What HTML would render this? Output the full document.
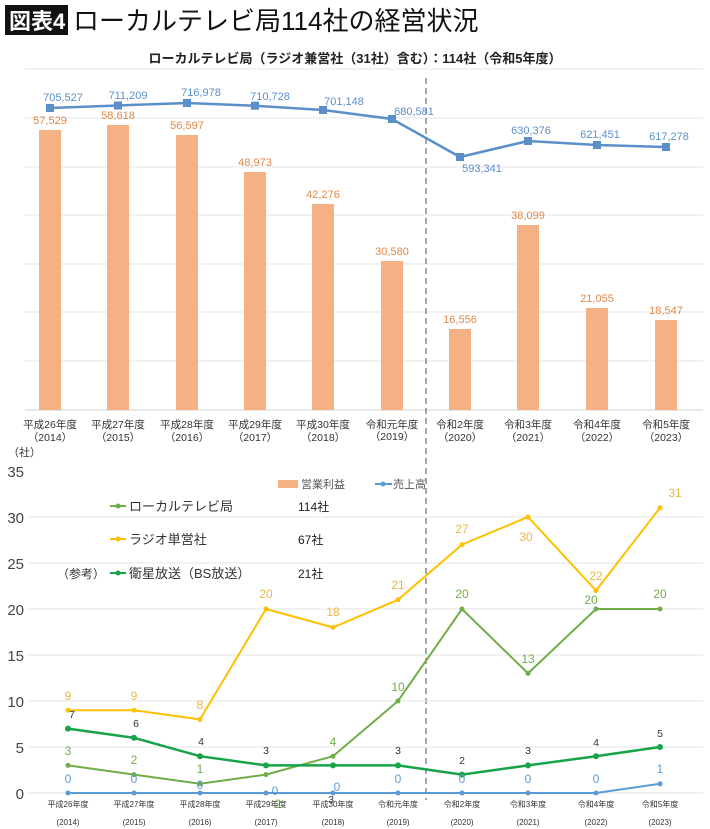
<!DOCTYPE html>
<html><head><meta charset="utf-8"><style>
html,body{margin:0;padding:0;background:#fff;}
svg{display:block;font-family:"Liberation Sans","Noto Sans CJK JP",sans-serif;}
</style></head><body>
<svg width="710" height="829" viewBox="0 0 710 829" xmlns="http://www.w3.org/2000/svg">
<rect x="5" y="5" width="63" height="30" fill="#111"/>
<text x="9" y="29" font-size="22" fill="#fff" font-weight="bold">図表4</text>
<text x="73" y="30" font-size="26" fill="#111">ローカルテレビ局114社の経営状況</text>
<text x="355" y="63" font-size="13" font-weight="bold" text-anchor="middle" fill="#222">ローカルテレビ局（ラジオ兼営社（31社）含む）：114社（令和5年度）</text>
<g stroke="#e4e4e4" stroke-width="1">
<line x1="25" y1="69" x2="703" y2="69"/><line x1="25" y1="118" x2="703" y2="118"/><line x1="25" y1="167" x2="703" y2="167"/><line x1="25" y1="215" x2="703" y2="215"/><line x1="25" y1="264" x2="703" y2="264"/><line x1="25" y1="312" x2="703" y2="312"/><line x1="25" y1="361" x2="703" y2="361"/><line x1="25" y1="410" x2="703" y2="410" stroke="#d0d0d0"/>
</g>
<g fill="#f4b183">
<rect x="39" y="130" width="22" height="280"/><rect x="107" y="125" width="22" height="285"/><rect x="176" y="135" width="22" height="275"/><rect x="244" y="172" width="22" height="238"/><rect x="312" y="204" width="22" height="206"/><rect x="381" y="261" width="22" height="149"/><rect x="449" y="329" width="22" height="81"/><rect x="517" y="225" width="22" height="185"/><rect x="586" y="308" width="22" height="102"/><rect x="655" y="320" width="22" height="90"/>
</g>
<g fill="#e0884a" font-size="11" text-anchor="middle">
<text x="50" y="124">57,529</text><text x="118" y="119">58,618</text><text x="187" y="129">56,597</text><text x="255" y="166">48,973</text><text x="323" y="198">42,276</text><text x="392" y="255">30,580</text><text x="460" y="323">16,556</text><text x="528" y="219">38,099</text><text x="597" y="302">21,055</text><text x="666" y="314">18,547</text>
</g>
<line x1="426" y1="78" x2="426" y2="800" stroke="#888" stroke-width="1.5" stroke-dasharray="6,4"/>
<polyline fill="none" stroke="#5b8fc9" stroke-width="2.5" points="50,108 118,105.5 187,103 255,105.7 323,110 392,119 460,157 528,141 597,145 666,147"/>
<g fill="#5b8fc9">
<rect x="46" y="104" width="8" height="8"/><rect x="114" y="101.5" width="8" height="8"/><rect x="183" y="99" width="8" height="8"/><rect x="251" y="101.7" width="8" height="8"/><rect x="319" y="106" width="8" height="8"/><rect x="388" y="115" width="8" height="8"/><rect x="456" y="153" width="8" height="8"/><rect x="524" y="137" width="8" height="8"/><rect x="593" y="141" width="8" height="8"/><rect x="662" y="143" width="8" height="8"/>
</g>
<g fill="#5b8fc9" font-size="11" text-anchor="middle">
<text x="63" y="101">705,527</text><text x="128" y="99">711,209</text><text x="201" y="96">716,978</text><text x="270" y="100">710,728</text><text x="344" y="105">701,148</text><text x="414" y="115">680,581</text><text x="482" y="172">593,341</text><text x="531" y="134">630,376</text><text x="600" y="138">621,451</text><text x="669" y="140">617,278</text>
</g>
<g fill="#333" font-size="10.5" text-anchor="middle">
<text x="50" y="428">平成26年度</text><text x="118" y="428">平成27年度</text><text x="187" y="428">平成28年度</text><text x="255" y="428">平成29年度</text><text x="323" y="428">平成30年度</text><text x="392" y="428">令和元年度</text><text x="460" y="428">令和2年度</text><text x="528" y="428">令和3年度</text><text x="597" y="428">令和4年度</text><text x="666" y="428">令和5年度</text>
<text x="50" y="441">（2014）</text><text x="118" y="441">（2015）</text><text x="187" y="441">（2016）</text><text x="255" y="441">（2017）</text><text x="323" y="441">（2018）</text><text x="392" y="440">（2019）</text><text x="460" y="441">（2020）</text><text x="528" y="441">（2021）</text><text x="597" y="441">（2022）</text><text x="666" y="441">（2023）</text>
</g>
<text x="8" y="456" font-size="11" fill="#333">（社）</text>
<g stroke="#e6e6e6" stroke-width="1">
<line x1="27" y1="517" x2="703" y2="517"/><line x1="27" y1="563" x2="703" y2="563"/><line x1="27" y1="609" x2="703" y2="609"/><line x1="27" y1="655" x2="703" y2="655"/><line x1="27" y1="701" x2="703" y2="701"/><line x1="27" y1="747" x2="703" y2="747"/><line x1="27" y1="793" x2="703" y2="793"/>
</g>
<g fill="#444" font-size="15" text-anchor="end">
<text x="24" y="477">35</text><text x="24" y="523">30</text><text x="24" y="569">25</text><text x="24" y="615">20</text><text x="24" y="661">15</text><text x="24" y="707">10</text><text x="24" y="753">5</text><text x="24" y="799">0</text>
</g>
<rect x="278" y="480" width="20" height="8" fill="#f4b183"/>
<text x="301" y="488" font-size="11" fill="#555">営業利益</text>
<line x1="375" y1="484" x2="392" y2="484" stroke="#5b9bd5" stroke-width="2"/><circle cx="383" cy="484" r="2.5" fill="#5b9bd5"/>
<text x="393" y="488" font-size="11" fill="#555">売上高</text>
<line x1="110" y1="506" x2="126" y2="506" stroke="#70ad47" stroke-width="2"/><circle cx="118" cy="506" r="2.5" fill="#70ad47"/>
<text x="129" y="511" font-size="13" fill="#333">ローカルテレビ局</text><text x="298" y="511" font-size="12" fill="#222">114社</text>
<line x1="110" y1="539" x2="126" y2="539" stroke="#ffc000" stroke-width="2"/><circle cx="118" cy="539" r="2.5" fill="#ffc000"/>
<text x="129" y="544" font-size="13" fill="#333">ラジオ単営社</text><text x="298" y="544" font-size="12" fill="#222">67社</text>
<text x="57" y="578" font-size="12" fill="#333">（参考）</text>
<line x1="110" y1="573" x2="126" y2="573" stroke="#16a34a" stroke-width="2"/><circle cx="118" cy="573" r="2.5" fill="#16a34a"/>
<text x="129" y="578" font-size="13" fill="#333">衛星放送（BS放送）</text><text x="298" y="578" font-size="12" fill="#222">21社</text>
<polyline fill="none" stroke="#5b9bd5" stroke-width="2" points="68,793 134,793 200,793 266,793 333,793 398,793 462,793 528,793 596,793 660,783.8"/>
<polyline fill="none" stroke="#ffc000" stroke-width="2" points="68,710.2 134,710.2 200,719.4 266,609 333,627.4 398,599.8 462,544.6 528,517 596,590.6 660,507.8"/>
<polyline fill="none" stroke="#70ad47" stroke-width="2" points="68,765.4 134,774.6 200,783.8 266,774.6 333,756.2 398,701 462,609 528,673.4 596,609 660,609"/>
<polyline fill="none" stroke="#16a34a" stroke-width="2.5" points="68,728.6 134,737.8 200,756.2 266,765.4 333,765.4 398,765.4 462,774.6 528,765.4 596,756.2 660,747"/>
<g fill="#5b9bd5"><circle cx="68" cy="793" r="2.5"/><circle cx="134" cy="793" r="2.5"/><circle cx="200" cy="793" r="2.5"/><circle cx="266" cy="793" r="2.5"/><circle cx="333" cy="793" r="2.5"/><circle cx="398" cy="793" r="2.5"/><circle cx="462" cy="793" r="2.5"/><circle cx="528" cy="793" r="2.5"/><circle cx="596" cy="793" r="2.5"/><circle cx="660" cy="783.8" r="2.5"/></g>
<g fill="#ffc000"><circle cx="68" cy="710.2" r="2.5"/><circle cx="134" cy="710.2" r="2.5"/><circle cx="200" cy="719.4" r="2.5"/><circle cx="266" cy="609" r="2.5"/><circle cx="333" cy="627.4" r="2.5"/><circle cx="398" cy="599.8" r="2.5"/><circle cx="462" cy="544.6" r="2.5"/><circle cx="528" cy="517" r="2.5"/><circle cx="596" cy="590.6" r="2.5"/><circle cx="660" cy="507.8" r="2.5"/></g>
<g fill="#70ad47"><circle cx="68" cy="765.4" r="2.5"/><circle cx="134" cy="774.6" r="2.5"/><circle cx="200" cy="783.8" r="2.5"/><circle cx="266" cy="774.6" r="2.5"/><circle cx="333" cy="756.2" r="2.5"/><circle cx="398" cy="701" r="2.5"/><circle cx="462" cy="609" r="2.5"/><circle cx="528" cy="673.4" r="2.5"/><circle cx="596" cy="609" r="2.5"/><circle cx="660" cy="609" r="2.5"/></g>
<g fill="#16a34a"><circle cx="68" cy="728.6" r="3"/><circle cx="134" cy="737.8" r="3"/><circle cx="200" cy="756.2" r="3"/><circle cx="266" cy="765.4" r="3"/><circle cx="333" cy="765.4" r="3"/><circle cx="398" cy="765.4" r="3"/><circle cx="462" cy="774.6" r="3"/><circle cx="528" cy="765.4" r="3"/><circle cx="596" cy="756.2" r="3"/><circle cx="660" cy="747" r="3"/></g>
<g fill="#e8b84a" font-size="12" text-anchor="middle">
<text x="68" y="700">9</text><text x="134" y="700">9</text><text x="200" y="709">8</text><text x="266" y="598">20</text><text x="333" y="616">18</text><text x="398" y="589">21</text><text x="462" y="533">27</text><text x="526" y="541">30</text><text x="596" y="580">22</text><text x="675" y="497">31</text>
</g>
<g fill="#70ad47" font-size="12" text-anchor="middle">
<text x="68" y="755">3</text><text x="134" y="764">2</text><text x="200" y="773">1</text><text x="278" y="808">2</text><text x="333" y="746">4</text><text x="398" y="691">10</text><text x="462" y="598">20</text><text x="528" y="663">13</text><text x="591" y="604">20</text><text x="660" y="598">20</text>
</g>
<g fill="#333" font-size="10.5" text-anchor="middle">
<text x="72" y="718">7</text><text x="136" y="727">6</text><text x="201" y="745">4</text><text x="266" y="754">3</text><text x="331" y="803">3</text><text x="398" y="754">3</text><text x="462" y="764">2</text><text x="528" y="754">3</text><text x="596" y="746">4</text><text x="660" y="737">5</text>
</g>
<g fill="#5b9bd5" font-size="12" text-anchor="middle">
<text x="68" y="783">0</text><text x="134" y="783">0</text><text x="200" y="789">0</text><text x="275" y="795">0</text><text x="337" y="791">0</text><text x="398" y="783">0</text><text x="462" y="783">0</text><text x="528" y="783">0</text><text x="596" y="783">0</text><text x="660" y="773">1</text>
</g>
<g fill="#333" font-size="8" text-anchor="middle">
<text x="68" y="807">平成26年度</text><text x="134" y="807">平成27年度</text><text x="200" y="807">平成28年度</text><text x="266" y="807">平成29年度</text><text x="333" y="807">平成30年度</text><text x="398" y="807">令和元年度</text><text x="462" y="807">令和2年度</text><text x="528" y="807">令和3年度</text><text x="596" y="807">令和4年度</text><text x="660" y="807">令和5年度</text>
<text x="68" y="825">(2014)</text><text x="134" y="825">(2015)</text><text x="200" y="825">(2016)</text><text x="266" y="825">(2017)</text><text x="333" y="825">(2018)</text><text x="398" y="825">(2019)</text><text x="462" y="825">(2020)</text><text x="528" y="825">(2021)</text><text x="596" y="825">(2022)</text><text x="660" y="825">(2023)</text>
</g>
</svg>
</body></html>
